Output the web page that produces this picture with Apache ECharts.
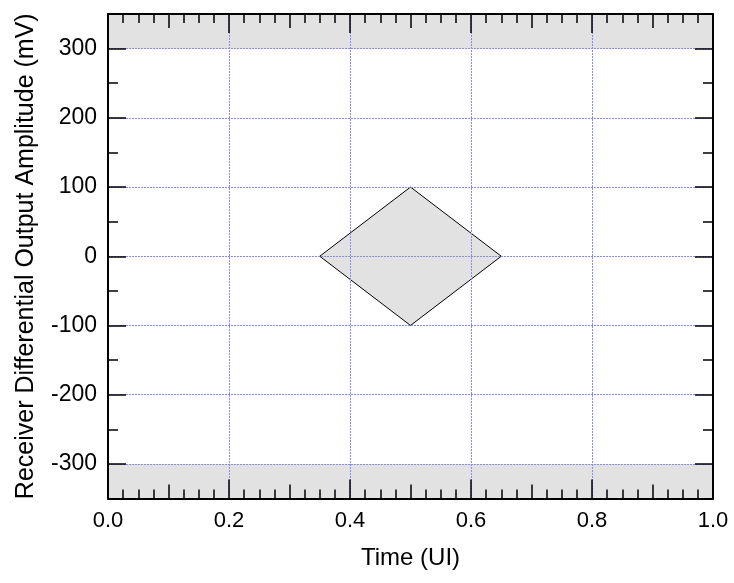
<!DOCTYPE html>
<html lang="en">
<head>
    <meta charset="UTF-8">
    <script src="https://cdn.jsdelivr.net/npm/echarts@6/dist/echarts.min.js"></script>
    <style>
        html, body { margin: 0; padding: 0; background: #fff; }
        #pic { width: 734px; height: 583px; }
    </style>
    <title>Receiver eye mask</title>
</head>
<body>
<div id="pic"></div>
<script type="text/javascript">
    // mask data
    var diamondX = [0.35, 0.5, 0.65, 0.5];
    var diamondY = [0, 100, 0, -100];
    var bandTop = [300, 350];
    var bandBottom = [-350, -300];
    var yMajorTicks = [-300, -200, -100, 0, 100, 200, 300];

    var FONT = 'Liberation Sans';

    function gridLine() {
        return { show: true, lineStyle: { color: '#8888ff', width: 1, type: [2, 1] } };
    }

    function xAx(pos, step, len, main) {
        var bottomMain = main && pos == 'bottom';
        return {
            type: 'value', position: pos, min: 0, max: 1, interval: step, z: 5,
            axisLine: { show: !!main, onZero: false, lineStyle: { color: '#000', width: 2 } },
            axisTick: { show: true, inside: true, length: len, lineStyle: { color: '#000', width: 1.5 } },
            axisLabel: {
                show: bottomMain, color: '#000', fontSize: 22, fontFamily: FONT, margin: 11,
                formatter: function (v) { return v.toFixed(1); }
            },
            splitLine: bottomMain ? gridLine() : { show: false },
            name: bottomMain ? 'Time (UI)' : '',
            nameLocation: 'middle', nameGap: 48,
            nameTextStyle: { color: '#000', fontSize: 24, fontFamily: FONT }
        };
    }

    function yAx(pos, len, main) {
        var ax = {
            type: 'value', position: pos, min: -350, max: 350, z: 5,
            axisLine: { show: !!main, onZero: false, lineStyle: { color: '#000', width: 2 } },
            axisTick: { show: true, inside: true, length: len, lineStyle: { color: '#000', width: 1.5 } },
            axisLabel: { show: false },
            splitLine: { show: false }
        };
        if (main) {
            ax.axisTick.customValues = yMajorTicks;
            ax.axisLabel = {
                show: pos == 'left', customValues: yMajorTicks, color: '#000',
                fontSize: 23, fontFamily: FONT, margin: 11
            };
            if (pos == 'left') {
                ax.splitLine = gridLine();
                ax.name = 'Receiver Differential Output Amplitude (mV)';
                ax.nameLocation = 'middle';
                ax.nameGap = 69;
                ax.nameTextStyle = { color: '#000', fontSize: 25, fontFamily: FONT };
            }
        } else {
            ax.interval = 50;
        }
        return ax;
    }

    var chart = echarts.init(document.getElementById('pic'));
    var option = {
        animation: false,
        grid: { left: 108, right: 21, top: 14, bottom: 84.5 },
        xAxis: [
            xAx('bottom', 0.2, 19, true), xAx('bottom', 0.1, 14), xAx('bottom', 0.025, 9),
            xAx('top', 0.2, 19, true), xAx('top', 0.1, 14), xAx('top', 0.025, 9)
        ],
        yAxis: [
            yAx('left', 18, true), yAx('left', 10),
            yAx('right', 18, true), yAx('right', 10)
        ],
        series: [
            {
                type: 'line', data: [], silent: true,
                markArea: {
                    silent: true,
                    itemStyle: { color: '#e2e2e2' },
                    data: [
                        [{ yAxis: bandTop[0] }, { yAxis: bandTop[1] }],
                        [{ yAxis: bandBottom[0] }, { yAxis: bandBottom[1] }]
                    ]
                }
            },
            {
                type: 'custom', silent: true,
                data: diamondX.map(function (x, i) { return [x, diamondY[i]]; }),
                renderItem: function (params, api) {
                    if (params.dataIndex != 0) return;
                    var pts = diamondX.map(function (x, i) { return api.coord([x, diamondY[i]]); });
                    return {
                        type: 'polygon',
                        shape: { points: pts },
                        style: { fill: '#e2e2e2', stroke: '#000', lineWidth: 1 }
                    };
                }
            }
        ]
    };
    chart.setOption(option);
</script>
</body>
</html>
